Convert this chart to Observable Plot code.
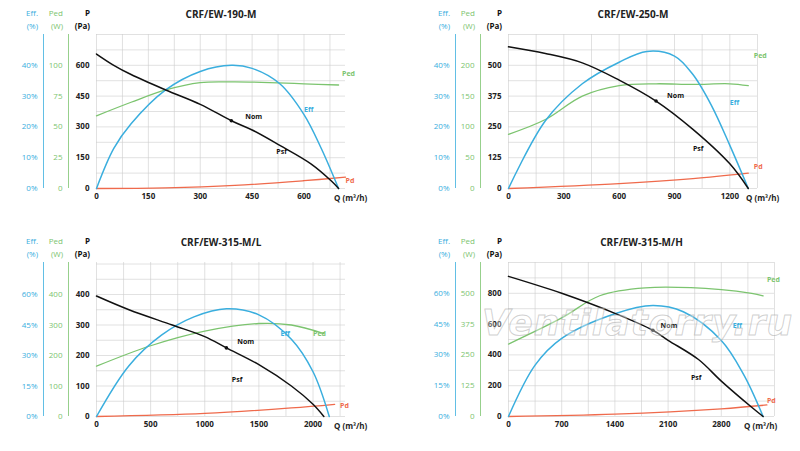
<!DOCTYPE html>
<html><head><meta charset="utf-8">
<script src="https://cdn.jsdelivr.net/npm/d3@7"></script>
<script src="https://cdn.jsdelivr.net/npm/@observablehq/plot@0.6"></script>
<style>
body{margin:0;background:#fff;font-family:"Open Sans",sans-serif;}
#wrap{position:relative;width:800px;height:451px;overflow:hidden}
.panel{position:absolute;width:400px;height:210px}
#wm{position:absolute;left:482px;top:302px;font:italic bold 36px "DejaVu Sans",sans-serif;color:rgba(255,255,255,0.35);-webkit-text-stroke:1px rgba(150,150,150,0.45);letter-spacing:1px}
</style></head>
<body><div id="wrap"></div>
<script>
const BLUE = "#3aaede", GREEN = "#7cc46f", RED = "#ef6a4c";

// ---- data ----
const titles = ["CRF/EW-190-M", "CRF/EW-250-M", "CRF/EW-315-M/L", "CRF/EW-315-M/H"];
const xMax = [720, 1350, 2300, 3500];
const xStep = [150, 300, 500, 700];
const pTicks = [[0,150,300,450,600],[0,125,250,375,500],[0,100,200,300,400],[0,200,400,600,800]];
const pMax = [750, 625, 505, 1000];
const effTicks = [["0%","10%","20%","30%","40%"],["0%","10%","20%","30%","40%"],["0%","15%","30%","45%","60%"],["0%","15%","30%","45%","60%"]];
const pedTicks = [["0","25","50","75","100"],["0","50","100","150","200"],["0","100","200","300","400"],["0","125","250","375","500"]];
// eff% and W that map to the top P tick
const effTop = [40, 40, 60, 60];
const pedTop = [100, 200, 400, 500];

const psf = [
  [[0,655],[50,600],[100,555],[200,480],[300,410],[390,330],[450,285],[530,210],[620,120],[680,35],[700,0]],
  [[0,575],[200,548],[400,510],[600,440],[800,355],[1000,240],[1200,100],[1300,0]],
  [[0,395],[300,350],[700,300],[1000,262],[1200,225],[1500,170],[1800,100],[2000,40],[2100,0]],
  [[0,910],[700,800],[1400,670],[1900,560],[2100,495],[2500,370],[2800,230],[3200,60],[3350,0]]
];
const eff = [
  [[0,0],[50,13],[100,21],[200,32],[300,38],[390,40],[450,39],[530,34],[600,24],[650,13],[700,0]],
  [[0,0],[200,22],[400,34],[600,41],[750,44.5],[900,43],[1000,37],[1100,27],[1200,14],[1300,0]],
  [[0,0],[300,25],[600,40],[900,49],[1200,53],[1500,50],[1800,38],[2000,22],[2150,0]],
  [[0,0],[350,25],[700,38],[1400,50],[1900,54],[2300,51],[2800,37],[3100,20],[3350,0]]
];
const ped = [
  [[0,59],[100,70],[200,80],[300,86],[400,86.5],[500,86],[600,85],[700,84]],
  [[0,88],[200,112],[400,150],[600,167],[800,170],[1000,169],[1200,170],[1300,167]],
  [[0,165],[500,232],[1000,280],[1500,305],[1800,300],[2100,272]],
  [[0,294],[700,400],[1200,490],[1800,522],[2800,515],[3200,500],[3350,490]]
];
const pd = [
  [[0,0],[200,3],[400,15],[600,38],[720,55]],
  [[0,0],[600,20],[1000,40],[1300,62]],
  [[0,0],[1000,10],[1800,28],[2200,40]],
  [[0,0],[1400,15],[2800,50],[3400,75]]
];
const nom = [[390,330],[800,355],[1200,225],[1900,560]];
// label anchors [name, x, P]
const labels = [
  [["Ped",710,560],["Eff",600,385],["Psf",520,180],["Pd",720,40],["Nom",430,350]],
  [["Ped",1330,540],["Eff",1200,350],["Psf",1000,160],["Pd",1330,90],["Nom",860,375]],
  [["Ped",2000,270],["Eff",1700,270],["Psf",1250,120],["Pd",2250,35],["Nom",1300,245]],
  [["Ped",3400,890],["Eff",2950,590],["Psf",2400,250],["Pd",3400,100],["Nom",2000,590]]
];
const lcol = {Ped: GREEN, Eff: BLUE, Psf: "#111", Pd: RED, Nom: "#111"};
const pos = [[0,0],[412,0],[0,228],[412,228]];
const mRight = [55, 55, 55, 38];

function panel(i) {
  const top = pTicks[i][4];
  const ef = d => d[1] * top / effTop[i];
  const pw = d => d[1] * top / pedTop[i];
  const half = xStep[i] / 2, ph = pTicks[i][1] / 2;
  const xt = d3.range(0, xMax[i] - xStep[i] * 0.3, xStep[i]);
  return Plot.plot({
    width: 400, height: 210,
    marginLeft: 96, marginRight: mRight[i], marginTop: 34, marginBottom: 22,
    style: {fontFamily: "Open Sans", fontSize: "8px", fontWeight: "bold", color: "#222"},
    x: {domain: [0, xMax[i]], axis: null},
    y: {domain: [0, pMax[i]], axis: null},
    marks: [
      Plot.gridX(d3.range(0, xMax[i] + 1, half), {stroke: "#ccc", strokeOpacity: 1, strokeWidth: 0.6}),
      Plot.gridY(d3.range(0, pMax[i] + 1, ph), {stroke: "#ccc", strokeOpacity: 1, strokeWidth: 0.6}),
      Plot.axisX(xt, {tickSize: 0, tickPadding: 5, tickFormat: d3.format("d")}),
      Plot.axisY(pTicks[i], {tickSize: 0, tickPadding: 7}),
      Plot.axisY(pTicks[i], {tickSize: 0, tickPadding: 7, dx: -27, fill: GREEN, fontWeight: "normal",
        tickFormat: (d, k) => pedTicks[i][k]}),
      Plot.axisY(pTicks[i], {tickSize: 0, tickPadding: 7, dx: -52, fill: BLUE, fontWeight: "normal",
        tickFormat: (d, k) => effTicks[i][k]}),
      Plot.ruleX([0], {y1: 0, y2: pMax[i], dx: -28, stroke: GREEN, strokeWidth: 0.8}),
      Plot.ruleX([0], {y1: 0, y2: pMax[i], dx: -53, stroke: BLUE, strokeWidth: 0.8}),
      Plot.line(pd[i], {x: "0", y: "1", stroke: RED, strokeWidth: 1.3, curve: "catmull-rom"}),
      Plot.line(ped[i], {x: "0", y: pw, stroke: GREEN, strokeWidth: 1.3, curve: "catmull-rom"}),
      Plot.line(eff[i], {x: "0", y: ef, stroke: BLUE, strokeWidth: 1.5, curve: "catmull-rom"}),
      Plot.line(psf[i], {x: "0", y: "1", stroke: "#111", strokeWidth: 1.5, curve: "catmull-rom"}),
      Plot.dot([nom[i]], {x: "0", y: "1", r: 1.8, fill: "#111"}),
      Plot.text(labels[i], {x: "1", y: "2", text: "0", fill: d => lcol[d[0]], fontSize: 7, textAnchor: "start"}),
      Plot.text([titles[i]], {frameAnchor: "top", dy: -24, fontSize: 10})
    ]
  });
}

const wrap = document.getElementById("wrap");
for (let i = 0; i < 4; i++) {
  const d = document.createElement("div");
  d.className = "panel";
  d.style.left = pos[i][0] + "px"; d.style.top = pos[i][1] + "px";
  d.appendChild(panel(i));
  // axis headers and Q label
  const hdr = [["Eff.", "(%)", 38, BLUE], ["Ped", "(W)", 63, GREEN], ["P", "(Pa)", 90, "#111"]];
  for (const [a, b, x, c] of hdr) {
    const h = document.createElement("div");
    h.style.cssText = `position:absolute;left:${x - 30}px;width:30px;top:6px;text-align:right;font:${c === "#111" ? "bold " : ""}8px/13px 'Open Sans';color:${c}`;
    h.innerHTML = a + "<br>" + b;
    d.appendChild(h);
  }
  const q = document.createElement("div");
  q.style.cssText = `position:absolute;left:${i === 3 ? 332 : 334}px;top:192px;font:bold 8px 'Open Sans';color:#222`;
  q.innerHTML = "Q (m³/h)";
  d.appendChild(q);
  wrap.appendChild(d);
}
const wm = document.createElement("div");
wm.id = "wm"; wm.textContent = "Ventilatorry.ru";
wrap.appendChild(wm);
</script></body></html>
